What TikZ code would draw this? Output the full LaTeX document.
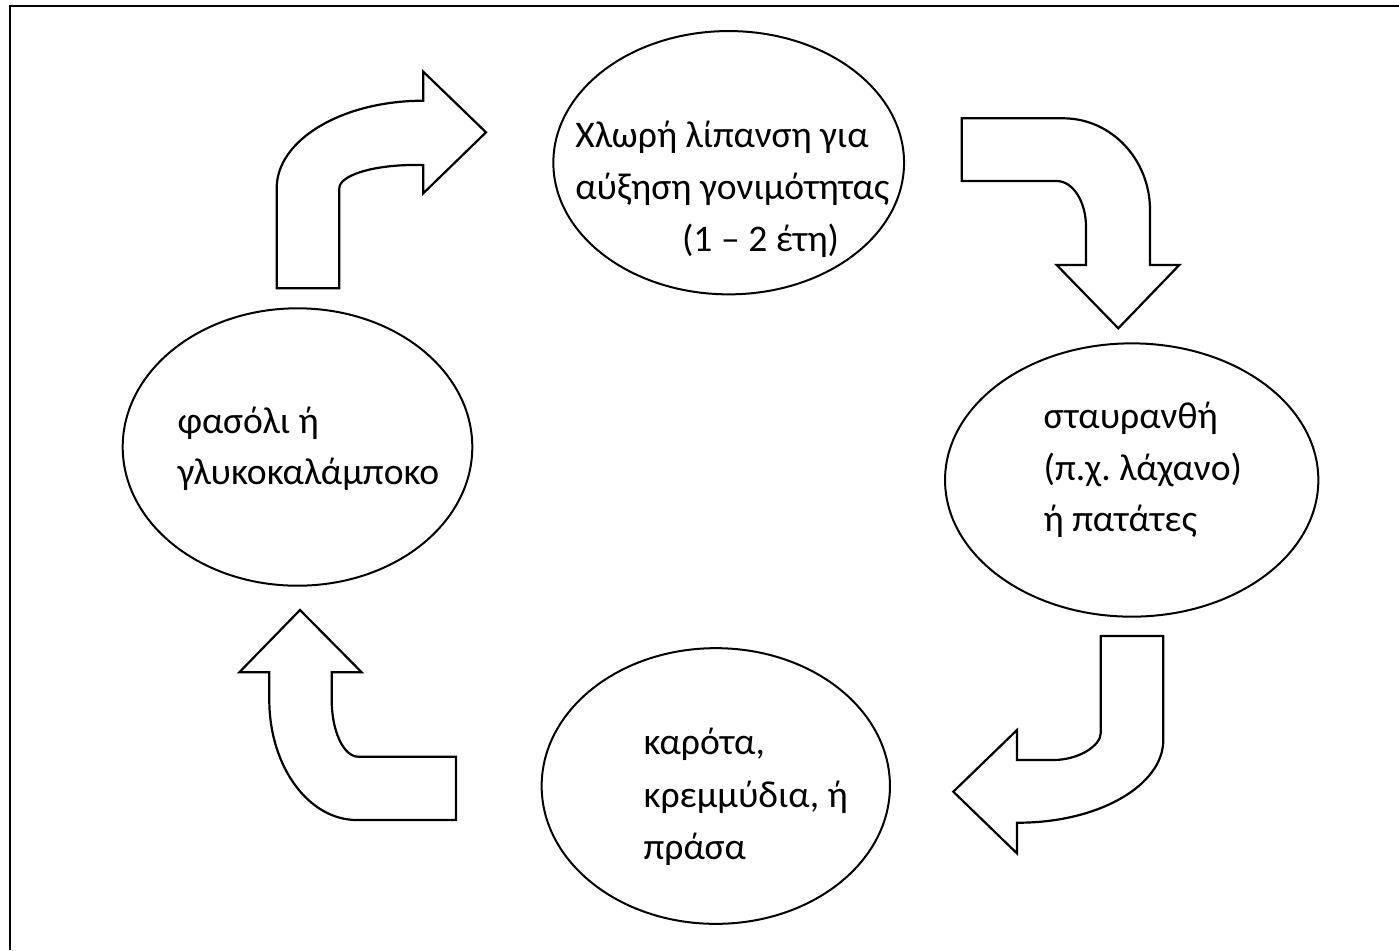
\documentclass[tikz,border=0pt]{standalone}
\usepackage{fontspec}
\setmainfont{Carlito}
\frenchspacing
\usetikzlibrary{shapes.geometric}
\tikzset{
  oval/.style={draw=black, line width=1pt, ellipse, inner sep=0pt, fill=white},
  bentarrow/.style={draw=black, line width=1.1pt, fill=white, line join=miter},
  lbl/.style={anchor=base west, inner sep=0pt, font=\fontsize{18.8}{22}\selectfont},
  frameline/.style={draw=black, line width=1pt}
}
\begin{document}
\begin{tikzpicture}[x=0.5pt,y=-0.5pt]
\useasboundingbox (0,0) rectangle (1399,950);
% frame
\coordinate (fbl) at (9.5,950);
\coordinate (ftl) at (9.5,5.5);
\coordinate (ftr) at (1399,5.5);
\draw[frameline] (fbl) -- (ftl) -- (ftr);

% ellipses
\node[oval, minimum width=175.35pt, minimum height=131.65pt] (top) at (728.7,162.7) {};
\node[oval, minimum width=186.65pt, minimum height=136.65pt] (right) at (1131.7,480) {};
\node[oval, minimum width=174.15pt, minimum height=137.85pt] (bottom) at (715.8,786) {};
\node[oval, minimum width=174.8pt, minimum height=138.7pt] (left) at (297.5,447) {};

% texts
\node[lbl] (t1) at (575,147) {Χλωρή λίπανση για};
\node[lbl] (t2) at (575,199) {αύξηση γονιμότητας};
\node[lbl] (t3) at (681.7,251) {(1 – 2 έτη)};

\node[lbl] (r1) at (1043.3,428.5) {σταυρανθή};
\node[lbl] (r2) at (1043.3,480) {(π.χ. λάχανο)};
\node[lbl] (r3) at (1043.3,531.5) {ή πατάτες};

\node[lbl] (b1) at (643.3,754) {καρότα,};
\node[lbl] (b2) at (643.3,807) {κρεμμύδια, ή};
\node[lbl] (b3) at (643.3,859) {πράσα};

\node[lbl] (l1) at (177.3,433) {φασόλι ή};
\node[lbl] (l2) at (177.3,484) {γλυκοκαλάμποκο};

% arrow 1: left -> top
\draw[bentarrow] (276.7,288.3) -- (276.7,188)
  .. controls (276.7,139.8) and (342.4,100.7) .. (423.3,100.7)
  -- (423.3,71.7) -- (486,132.3) -- (423.3,193.3) -- (423.3,165) -- (414,165)
  .. controls (372.8,165) and (339.3,175.4) .. (339.3,188.3)
  -- (339.3,288.3) -- cycle;

% arrow 2: top -> right
\draw[bentarrow] (961.7,118.3) -- (1063.3,118.3)
  .. controls (1111.2,118.3) and (1150,159.4) .. (1150,210)
  -- (1150,265) -- (1179.3,265) -- (1118.3,328.3) -- (1056.7,265) -- (1086,265)
  -- (1086,226.7)
  .. controls (1086,201.5) and (1072.9,181) .. (1056.7,181)
  -- (961.7,181) -- cycle;

% arrow 3: right -> bottom
\draw[bentarrow] (1100.7,636) -- (1163.3,636) -- (1163.3,740)
  .. controls (1163.3,785.6) and (1098.3,822.7) .. (1018.3,822.7)
  -- (1017,822.7) -- (1017,853.4) -- (953.3,791.7) -- (1017,730) -- (1017,760)
  -- (1053,760)
  .. controls (1079.3,760) and (1100.7,745.3) .. (1100.7,733.3)
  -- cycle;

% arrow 4: bottom -> left
\draw[bentarrow] (456,756.7) -- (358.3,756.7)
  .. controls (343.6,756.7) and (331.7,731.3) .. (331.7,700)
  -- (331.7,672.3) -- (361.7,672.3) -- (300,610) -- (239.3,672.3) -- (269.3,672.3)
  -- (269.3,700)
  .. controls (269.3,766.2) and (308.5,820) .. (356.7,820)
  -- (456,820) -- cycle;
\end{tikzpicture}
\end{document}
